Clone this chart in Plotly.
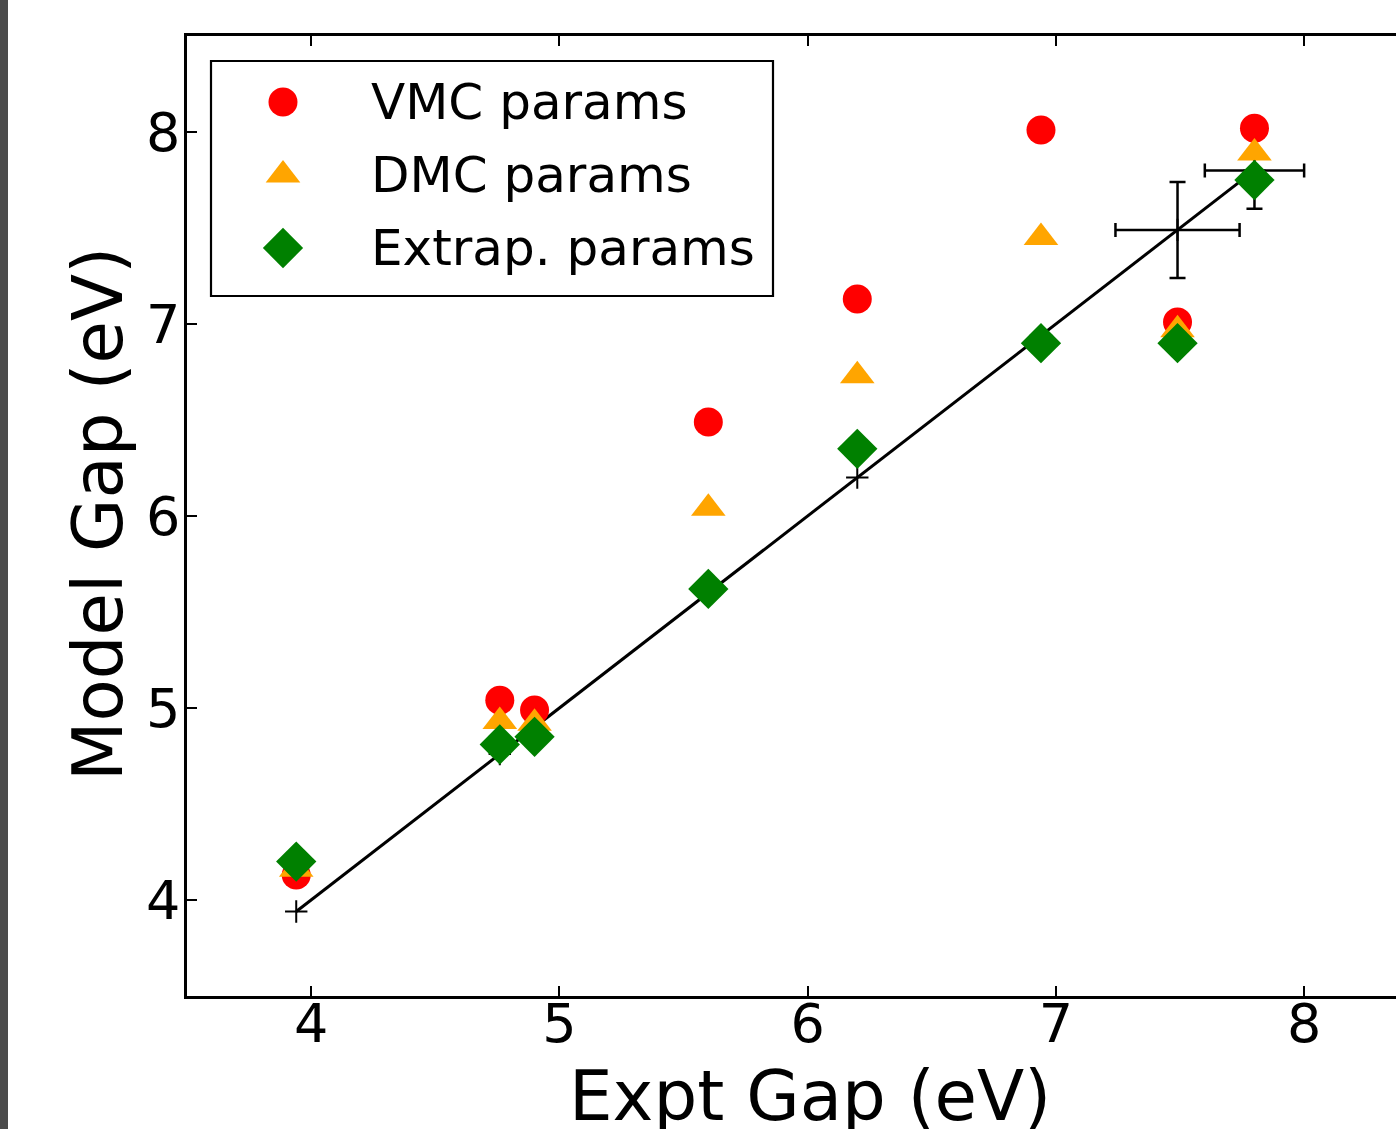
import plotly.graph_objects as go

# ---------------- data ----------------
expt_gap = [3.94, 4.76, 4.90, 5.60, 6.20, 6.94, 7.49, 7.80]
vmc_gap = [4.13, 5.04, 4.99, 6.49, 7.13, 8.01, 7.01, 8.02]
dmc_gap = [4.16, 4.93, 4.92, 6.04, 6.73, 7.45, 6.97, 7.89]
extrap_gap = [4.20, 4.81, 4.85, 5.62, 6.35, 6.90, 6.90, 7.75]

err_expt = [7.49, 7.80]
err_x = [0.25, 0.20]
err_y = [0.25, 0.20]

series_names = ["VMC params", "DMC params", "Extrap. params"]
x_ticks = [4, 5, 6, 7, 8]
y_ticks = [4, 5, 6, 7, 8]

# ---------------- layout geometry (pixels) ----------------
W, H = 1396, 1129
L, R, T, B = 187, 0, 36, 133
PW, PH = W - L - R, H - T - B
X0, XSCALE = 3.5, 248.25
xr = [X0, X0 + PW / XSCALE]
yr = [3.5, 8.5]


def px(xp):
    return (xp - L) / PW


def py(yp):
    return (H - B - yp) / PH


FONT = "DejaVu Sans"
RED, ORANGE, GREEN = "#ff0000", "#ffa500", "#008000"
styles = [
    dict(symbol="circle", size=29, color=RED),
    dict(symbol="triangle-up", size=30, color=ORANGE),
    dict(symbol="diamond", size=31, color=GREEN),
]

fig = go.Figure()

# diagonal line with + markers
fig.add_trace(go.Scatter(
    x=expt_gap, y=expt_gap, mode="lines+markers",
    line=dict(color="black", width=3),
    marker=dict(symbol="cross-thin", size=16, line=dict(color="black", width=2)),
    showlegend=False, hoverinfo="skip"))

# error bars
fig.add_trace(go.Scatter(
    x=err_expt, y=err_expt, mode="markers",
    marker=dict(size=1, color="rgba(0,0,0,0)"),
    error_x=dict(type="data", array=err_x, color="black", thickness=2.5, width=7),
    error_y=dict(type="data", array=err_y, color="black", thickness=2.5, width=8),
    showlegend=False, hoverinfo="skip"))

for name, vals, st in zip(series_names, [vmc_gap, dmc_gap, extrap_gap], styles):
    fig.add_trace(go.Scatter(
        x=expt_gap, y=vals, mode="markers", name=name,
        marker=dict(symbol=st["symbol"], size=st["size"], color=st["color"],
                    line=dict(width=0)),
        showlegend=False))

# ---------------- manual legend (overlay axes in legend-box pixels) ----------------
LBX0, LBX1, LBY0, LBY1 = 211, 773, 61, 296
leg_marker_x = 72
leg_text_x = 158
leg_rows = [41, 114, 187]
for name, st, ry in zip(series_names, styles, leg_rows):
    fig.add_trace(go.Scatter(
        x=[leg_marker_x], y=[ry], xaxis="x2", yaxis="y2", mode="markers",
        marker=dict(symbol=st["symbol"], size=st["size"], color=st["color"],
                    line=dict(width=0)),
        showlegend=False, hoverinfo="skip"))

annotations = []
for name, ry in zip(series_names, leg_rows):
    annotations.append(dict(
        x=leg_text_x, y=ry, xref="x2", yref="y2", text=name, showarrow=False,
        xanchor="left", yanchor="middle", font=dict(family=FONT, size=50, color="black")))

# axis titles
annotations.append(dict(
    x=px(810), y=py(1096), xref="paper", yref="paper", text="Expt Gap (eV)",
    showarrow=False, xanchor="center", yanchor="middle",
    font=dict(family=FONT, size=69, color="black")))
annotations.append(dict(
    x=px(98), y=py(514), xref="paper", yref="paper", text="Model Gap (eV)",
    showarrow=False, xanchor="center", yanchor="middle", textangle=-90,
    font=dict(family=FONT, size=69, color="black")))

shapes = [
    # legend frame
    dict(type="rect", xref="paper", yref="paper",
         x0=px(LBX0), x1=px(LBX1), y0=py(LBY1), y1=py(LBY0),
         line=dict(color="black", width=2.2), fillcolor="rgba(0,0,0,0)", layer="above"),
    # dark strip at left edge
    dict(type="rect", xref="paper", yref="paper",
         x0=px(0), x1=px(8), y0=py(H), y1=py(0),
         line=dict(width=0), fillcolor="#4b4b4b", layer="above"),
]

fig.update_layout(
    width=W, height=H,
    margin=dict(l=L, r=R, t=T, b=B, pad=0),
    paper_bgcolor="white", plot_bgcolor="white",
    font=dict(family=FONT, color="black"),
    showlegend=False,
    xaxis=dict(range=xr, tickvals=x_ticks, ticktext=[str(v) for v in x_ticks],
               ticks="inside", ticklen=10, tickwidth=1.5, tickcolor="black",
               showline=True, linecolor="black", linewidth=2.5, mirror="ticks",
               showgrid=False, zeroline=False,
               tickfont=dict(family=FONT, size=54, color="black"),
               ticklabelstandoff=-22),
    yaxis=dict(range=yr, tickvals=y_ticks, ticktext=[str(v) for v in y_ticks],
               ticks="inside", ticklen=10, tickwidth=1.5, tickcolor="black",
               showline=True, linecolor="black", linewidth=2.5, mirror=False,
               showgrid=False, zeroline=False,
               tickfont=dict(family=FONT, size=54, color="black"),
               ticklabelstandoff=-7),
    xaxis2=dict(domain=[px(LBX0), px(LBX1)], range=[0, LBX1 - LBX0], anchor="y2",
                visible=False, fixedrange=True),
    yaxis2=dict(domain=[py(LBY1), py(LBY0)], range=[LBY1 - LBY0, 0], anchor="x2",
                visible=False, fixedrange=True),
    annotations=annotations,
    shapes=shapes,
)

fig.write_html(
    "out.html",
    config={"displayModeBar": False},
    post_script="document.body.style.margin='0';document.body.style.overflow='hidden';",
)
